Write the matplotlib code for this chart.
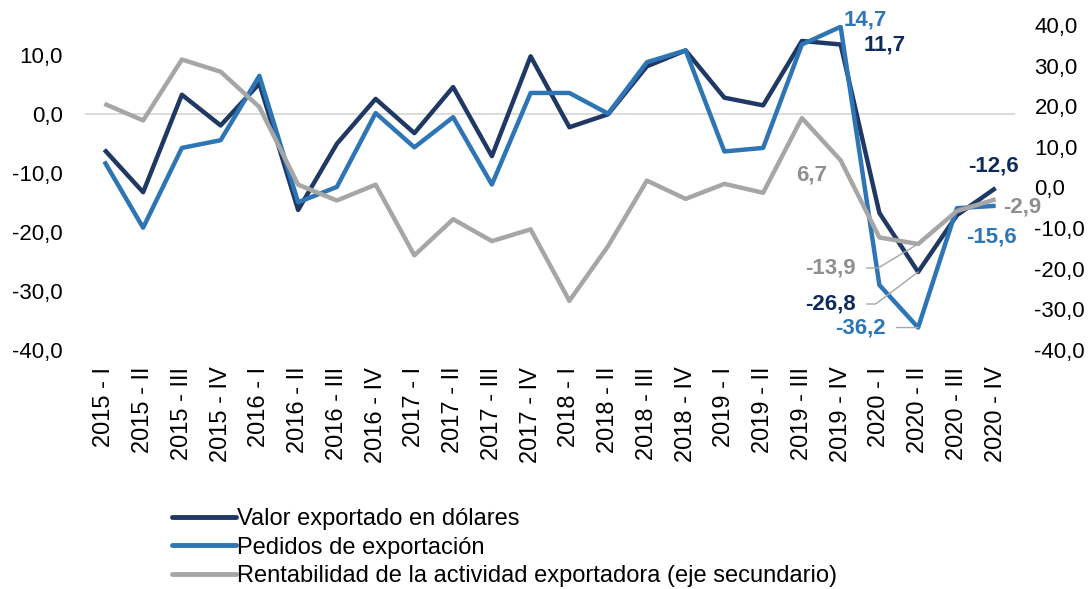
import matplotlib
matplotlib.use("Agg")
import matplotlib.pyplot as plt
from matplotlib.ticker import FuncFormatter, FixedLocator
from matplotlib.lines import Line2D
import numpy as np

plt.rcParams['font.family'] = ['Liberation Sans', 'DejaVu Sans']

# ---- data ----
trimestres = ["2015 - I", "2015 - II", "2015 - III", "2015 - IV",
              "2016 - I", "2016 - II", "2016 - III", "2016 - IV",
              "2017 - I", "2017 - II", "2017 - III", "2017 - IV",
              "2018 - I", "2018 - II", "2018 - III", "2018 - IV",
              "2019 - I", "2019 - II", "2019 - III", "2019 - IV",
              "2020 - I", "2020 - II", "2020 - III", "2020 - IV"]
valor_exportado = [-6.1, -13.3, 3.2, -2.0, 5.1, -16.3, -5.1, 2.5,
                   -3.3, 4.5, -7.2, 9.7, -2.3, -0.1, 8.0, 10.7,
                   2.7, 1.4, 12.3, 11.7, -16.8, -26.8, -17.2, -12.6]
pedidos = [-8.1, -19.3, -5.8, -4.5, 6.4, -15.0, -12.4, 0.1,
           -5.7, -0.6, -12.0, 3.5, 3.5, 0.0, 8.7, 10.7,
           -6.4, -5.8, 11.7, 14.7, -29.0, -36.2, -16.0, -15.6]
rentabilidad = [20.6, 16.5, 31.5, 28.5, 19.8, 0.7, -3.2, 0.7,
                -16.7, -7.8, -13.2, -10.3, -27.9, -14.4, 1.7, -2.8,
                0.9, -1.3, 17.1, 6.7, -12.3, -13.9, -5.8, -2.9]
series_names = ["Valor exportado en dólares", "Pedidos de exportación",
                "Rentabilidad de la actividad exportadora (eje secundario)"]
left_ticks = [-40, -30, -20, -10, 0, 10]
right_ticks = [-40, -30, -20, -10, 0, 10, 20, 30, 40]

# ---- style ----
C_DARK = "#203864"
C_BLUE = "#2E75B6"
C_GRAY = "#A6A6A6"
T_DARK = "#0E2A5C"
T_BLUE = "#2E75B6"
T_GRAY = "#8F8F8F"
FS = 16
FS_X = 17
FS_LEG = 17
LW = 3.2

fig = plt.figure(figsize=(10.92, 5.89), dpi=100)
ax = fig.add_axes([85/1092, 1-350/589, 930/1092, 325/589])
ax2 = ax.twinx()

x = np.arange(len(trimestres))
lkw = dict(lw=LW, solid_joinstyle='round', solid_capstyle='butt')
ax.axhline(0, color="#D9D9D9", lw=1.3, zorder=0)
l1, = ax.plot(x, valor_exportado, color=C_DARK, zorder=3, **lkw)
l2, = ax.plot(x, pedidos, color=C_BLUE, zorder=4, **lkw)
l3, = ax2.plot(x, rentabilidad, color=C_GRAY, zorder=3, **lkw)

ax.set_xlim(-0.5, len(trimestres) - 0.5)
ax.set_ylim(-40, 15)
ax2.set_ylim(-40, 40)
ax.yaxis.set_major_locator(FixedLocator(left_ticks))
ax2.yaxis.set_major_locator(FixedLocator(right_ticks))
fmt = FuncFormatter(lambda v, p: f"{v:.1f}".replace('.', ','))
ax.yaxis.set_major_formatter(fmt)
ax2.yaxis.set_major_formatter(fmt)
ax.set_xticks(x)
ax.set_xticklabels(trimestres, rotation=90, fontsize=FS_X)

for a in (ax, ax2):
    for s in a.spines.values():
        s.set_visible(False)
ax.tick_params(axis='x', length=0, pad=12)
ax.tick_params(axis='y', length=0, pad=16, labelsize=FS)
ax2.tick_params(axis='y', length=0, pad=14, labelsize=FS)

def lab(v):
    return f"{v:.1f}".replace('.', ',')

PX = 0.72  # px -> points at 100 dpi

def annot(axis, data, i, color, dx, dy, leader=None):
    kw = {}
    if leader is not None:
        ap = dict(arrowstyle='-', color='#A6A6A6', lw=1.0, relpos=(1, 0.5),
                  shrinkA=6, shrinkB=0)
        if leader != 'straight':
            ap['connectionstyle'] = f"angle,angleA=0,angleB={leader},rad=0"
        kw['arrowprops'] = ap
    axis.annotate(lab(data[i]), xy=(x[i], data[i]), xytext=(dx*PX, -dy*PX),
                  textcoords='offset points', ha='center', va='center',
                  fontsize=FS, fontweight='bold', color=color, zorder=6, **kw)

annot(ax, pedidos, 19, T_BLUE, 25, -7)
annot(ax, valor_exportado, 19, T_DARK, 44, 1)
annot(ax2, rentabilidad, 19, T_GRAY, -29, 15)
annot(ax, valor_exportado, 23, T_DARK, -2, -22)
annot(ax2, rentabilidad, 23, T_GRAY, 27, 8)
annot(ax, pedidos, 23, T_BLUE, -4, 31)
annot(ax2, rentabilidad, 21, T_GRAY, -88, 24, leader=31)
annot(ax, valor_exportado, 21, T_DARK, -88, 32, leader=37)
annot(ax, pedidos, 21, T_BLUE, -58, 0, leader='straight')

handles = [Line2D([], [], color=c, lw=LW + 0.3, solid_capstyle='round') for c in (C_DARK, C_BLUE, C_GRAY)]
fig.legend(handles, series_names, loc='upper left',
           bbox_to_anchor=(172/1092, 1-508/589), frameon=False, fontsize=FS_LEG,
           handlelength=2.7, handletextpad=0.05, labelspacing=0.28,
           borderpad=0, borderaxespad=0)

fig.savefig("out.png", dpi=100)
